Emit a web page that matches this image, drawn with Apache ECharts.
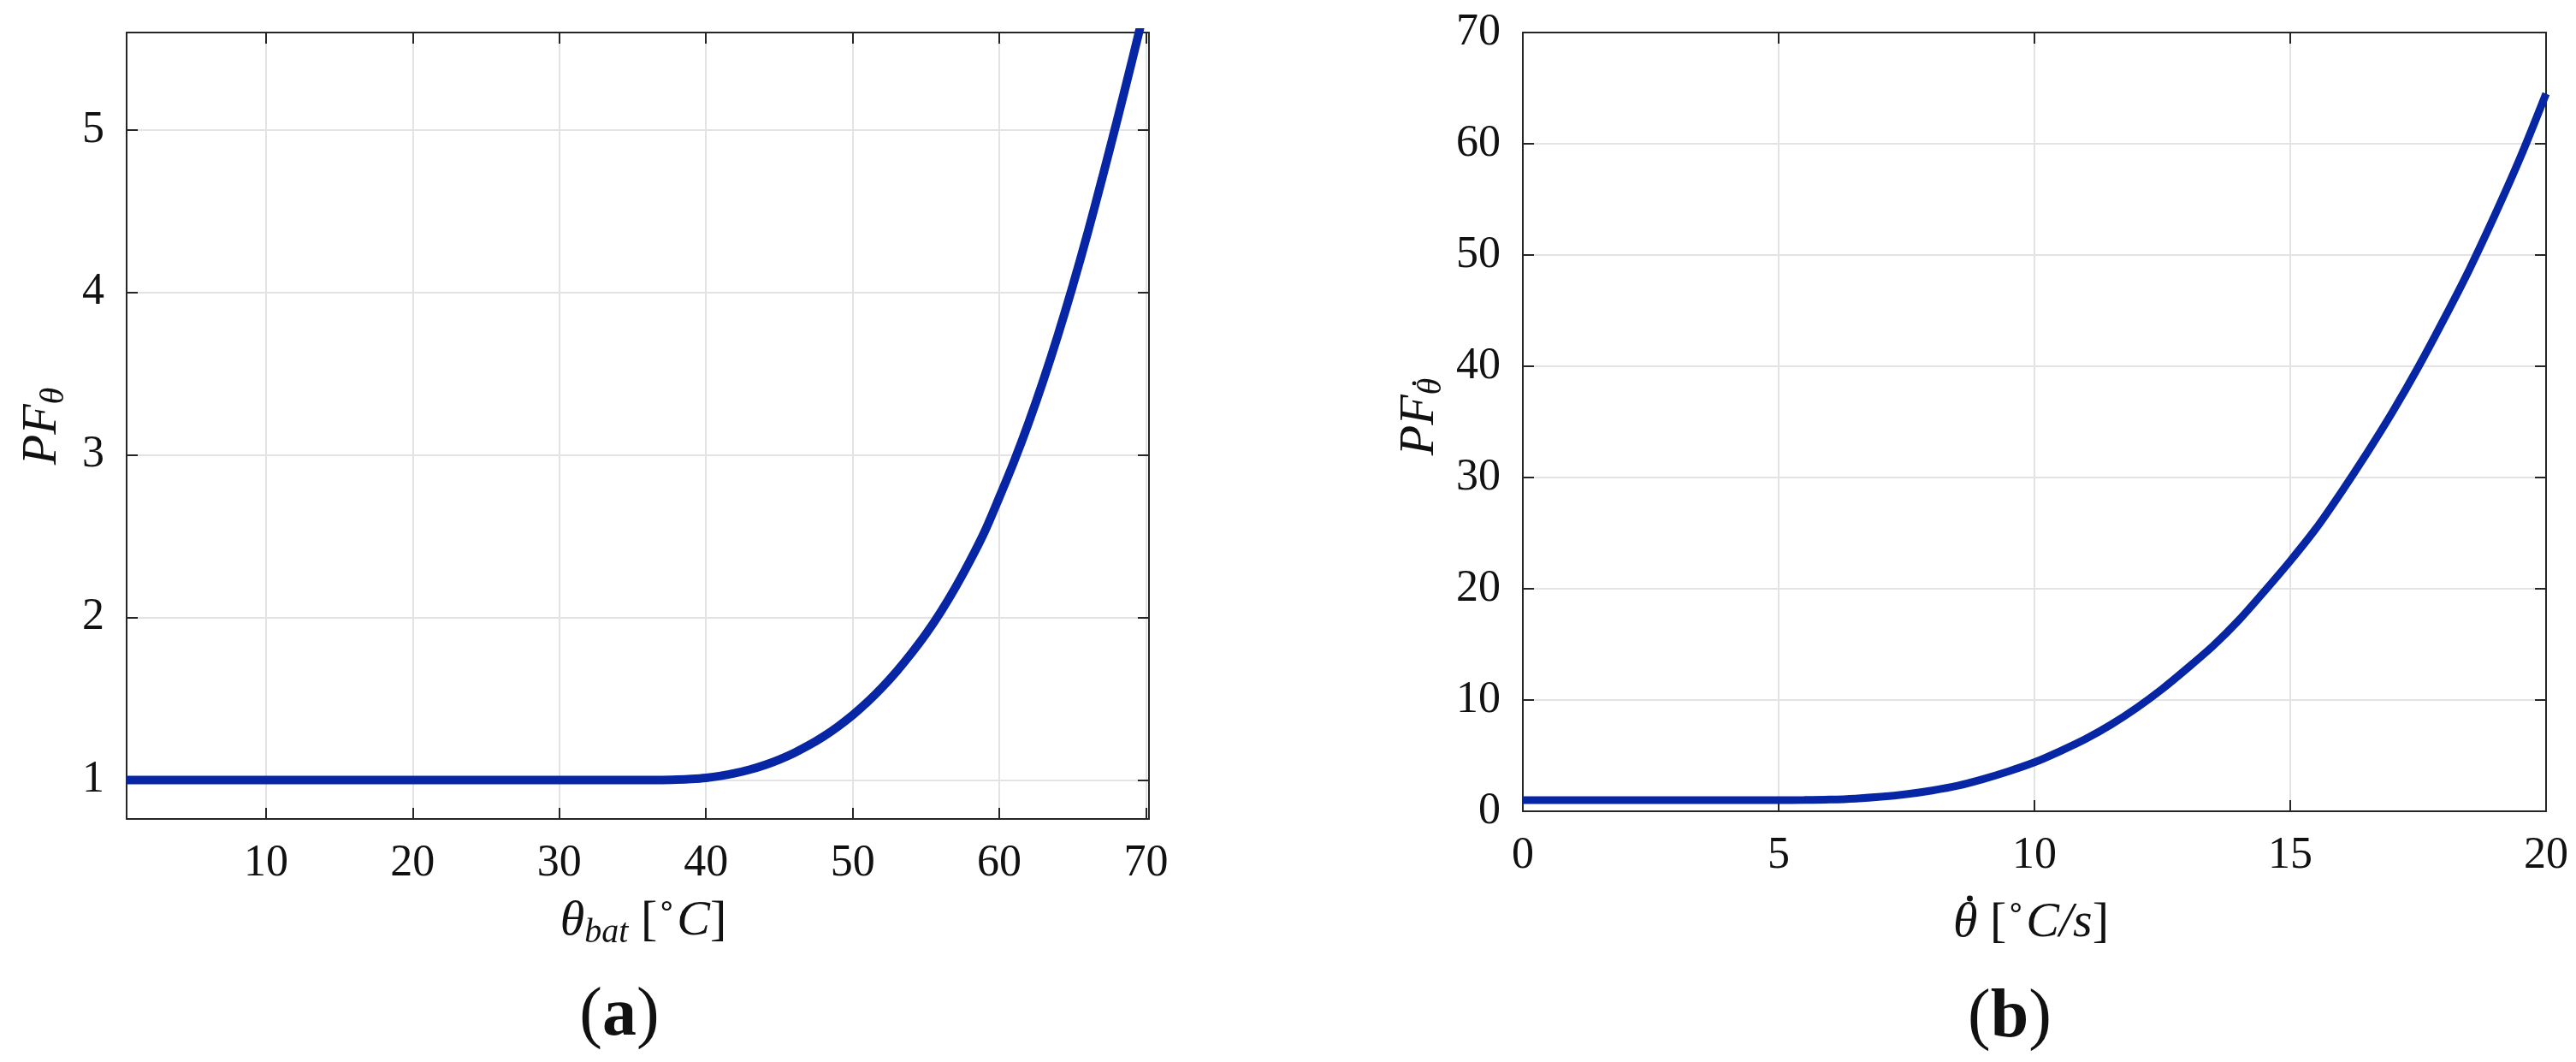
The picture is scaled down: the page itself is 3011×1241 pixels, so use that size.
<!DOCTYPE html>
<html><head><meta charset="utf-8">
<script src="https://cdn.jsdelivr.net/npm/echarts@6/dist/echarts.min.js"></script>
<style>html,body{margin:0;padding:0;background:#fff}#c{width:3011px;height:1241px}</style>
</head><body><div id="c"></div>
<script>
// ---- data (a) ----
const thetaBat = [0.5, 5, 10, 15, 20, 25, 30, 35, 37, 38, 39, 40, 41, 42, 43, 44, 45, 46, 47, 48, 49, 50, 51, 52, 53, 54, 55, 56, 57, 58, 59, 60, 61, 62, 63, 64, 65, 66, 67, 68, 69, 70, 70.2];
const pfTheta  = [1, 1, 1, 1, 1, 1, 1, 1, 1, 1.002, 1.006, 1.013, 1.025, 1.042, 1.064, 1.092, 1.126, 1.166, 1.213, 1.267, 1.329, 1.399, 1.479, 1.569, 1.669, 1.779, 1.899, 2.034, 2.184, 2.349, 2.529, 2.74, 2.96, 3.2, 3.46, 3.74, 4.04, 4.36, 4.7, 5.05, 5.41, 5.78, 5.85];
const xTicksA = [10, 20, 30, 40, 50, 60, 70];
const yTicksA = [1, 2, 3, 4, 5];
// ---- data (b) ----
const thetaDot   = [0, 1, 2, 3, 4, 5, 5.5, 6, 6.5, 7, 7.5, 8, 8.5, 9, 9.5, 10, 10.5, 11, 11.5, 12, 12.5, 13, 13.5, 14, 14.5, 15, 15.5, 16, 16.5, 17, 17.5, 18, 18.5, 19, 19.5, 20];
const pfThetaDot = [1, 1, 1, 1, 1, 1, 1.01, 1.05, 1.14, 1.3, 1.54, 1.87, 2.3, 2.9, 3.6, 4.4, 5.4, 6.5, 7.8, 9.3, 11.0, 12.9, 14.9, 17.2, 19.8, 22.5, 25.4, 28.7, 32.2, 35.9, 39.9, 44.2, 48.7, 53.6, 58.8, 64.5];
const xTicksB = [0, 5, 10, 15, 20];
const yTicksB = [0, 10, 20, 30, 40, 50, 60, 70];

const FONT = 'Liberation Serif';
const AX = '#262626';
const GRIDC = '#e3e3e3';
const LINEC = '#0726a6';
const TXT = '#111';

function tickStyle(vals){ return {show:true, inside:true, length:13, lineStyle:{color:AX, width:2}, customValues: vals}; }
function mkX(gi, min, max, vals, main){
  return {gridIndex:gi, type:'value', min:min, max:max, position: main ? 'bottom' : 'top',
    axisLine:{show:true, onZero:false, lineStyle:{color:AX, width:2}},
    axisTick: tickStyle(vals),
    axisLabel: main ? {show:true, customValues: vals, margin:26, fontSize:52, fontFamily:FONT, color:TXT} : {show:false},
    splitLine: main ? {show:true, lineStyle:{color:GRIDC, width:2}} : {show:false}};
}
function mkY(gi, min, max, vals, main){
  return {gridIndex:gi, type:'value', min:min, max:max, position: main ? 'left' : 'right',
    axisLine:{show:true, onZero:false, lineStyle:{color:AX, width:2}},
    axisTick: tickStyle(vals),
    axisLabel: main ? {show:true, customValues: vals, margin:26, fontSize:52, fontFamily:FONT, color:TXT} : {show:false},
    splitLine: main ? {show:true, lineStyle:{color:GRIDC, width:2}} : {show:false}};
}

// text layout helper: pieces laid out left to right, centred on (cx, cy)
const mctx = document.createElement('canvas').getContext('2d');
function fontStr(p){ return (p.it ? 'italic ' : '') + (p.b ? 'bold ' : '') + p.sz + 'px "' + FONT + '"'; }
function label(cx, cy, pieces, rot){
  let widths = pieces.map(p => { mctx.font = fontStr(p); return mctx.measureText(p.t).width; });
  const W = widths.reduce((a, b) => a + b, 0);
  let x = -W / 2;
  const children = [];
  pieces.forEach((p, k) => {
    const dy = p.dy || 0;
    children.push({type:'text', x:x, y:dy, style:{text:p.t, fontSize:p.sz, fontFamily:FONT,
      fontStyle: p.it ? 'italic' : 'normal', fontWeight: p.b ? 'bold' : 'normal',
      fill:TXT, align:'left', verticalAlign:'middle'}});
    if (p.dot) {
      children.push({type:'circle', shape:{cx: x + widths[k] / 2 + p.sz * 0.09, cy: dy - p.sz * 0.5, r: p.sz * 0.06},
        style:{fill:TXT}});
    }
    x += widths[k];
  });
  return {type:'group', x:cx, y:cy, rotation: rot || 0, children:children};
}

const chart = echarts.init(document.getElementById('c'));
chart.setOption({
  animation:false,
  backgroundColor:'#fff',
  grid:[
    {left:148, top:38, width:1195, height:919},
    {left:1780, top:38, width:1196, height:910}
  ],
  xAxis:[
    mkX(0, 0.5, 70.2, xTicksA, true), mkX(0, 0.5, 70.2, xTicksA, false),
    mkX(1, 0, 20, xTicksB, true), mkX(1, 0, 20, xTicksB, false)
  ],
  yAxis:[
    mkY(0, 0.76, 5.6, yTicksA, true), mkY(0, 0.76, 5.6, yTicksA, false),
    mkY(1, 0, 70, yTicksB, true), mkY(1, 0, 70, yTicksB, false)
  ],
  series:[
    {type:'line', xAxisIndex:0, yAxisIndex:0, data: thetaBat.map((x,i)=>[x, pfTheta[i]]),
     showSymbol:false, smooth:0.3, clip:true, lineStyle:{color:LINEC, width:10}},
    {type:'line', xAxisIndex:2, yAxisIndex:2, data: thetaDot.map((x,i)=>[x, pfThetaDot[i]]),
     showSymbol:false, smooth:0.3, clip:true, lineStyle:{color:LINEC, width:9}}
  ],
  graphic:[
    label(752, 1077, [
      {t:'θ', sz:58, it:true}, {t:'bat', sz:40, it:true, dy:13}, {t:' [', sz:58},
      {t:'∘', sz:36, dy:-17}, {t:'C', sz:58, it:true}, {t:']', sz:58}]),
    label(2374, 1079, [
      {t:'θ', sz:58, it:true, dot:true}, {t:' [', sz:58},
      {t:'∘', sz:36, dy:-17}, {t:'C', sz:58, it:true}, {t:'/', sz:58, it:true}, {t:'s', sz:58, it:true}, {t:']', sz:58}]),
    label(50, 498, [{t:'PF', sz:58, it:true}, {t:'θ', sz:40, it:true, dy:13}], Math.PI / 2),
    label(1660, 487, [{t:'PF', sz:58, it:true}, {t:'θ', sz:40, it:true, dy:13, dot:true}], Math.PI / 2),
    label(724, 1188, [{t:'(', sz:80}, {t:'a', sz:80, b:true}, {t:')', sz:80}]),
    label(2349, 1190, [{t:'(', sz:80}, {t:'b', sz:80, b:true}, {t:')', sz:80}])
  ]
});
</script></body></html>
